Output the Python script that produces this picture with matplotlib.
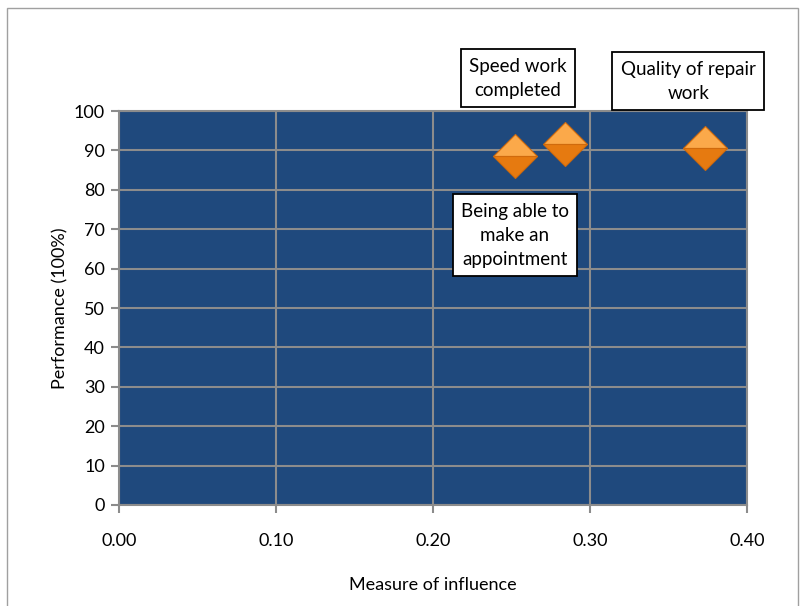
import numpy as np
import matplotlib.pyplot as plt
from matplotlib.patches import Rectangle

plt.rcParams['font.family'] = ['Lato', 'DejaVu Sans']

# data
influence = [0.252, 0.284, 0.373]
performance = [88.6, 91.6, 90.6]
labels = ['Being able to\nmake an\nappointment', 'Speed work\ncompleted', 'Quality of repair\nwork']
xticks = [0.0, 0.1, 0.2, 0.3, 0.4]
yticks = list(range(0, 101, 10))

fig = plt.figure(figsize=(8.04, 6.06), dpi=100)
fig.patches.append(Rectangle((0.009, -0.01), 0.983, 0.997, transform=fig.transFigure,
                             fill=False, edgecolor='#a0a0a0', linewidth=1))
ax = fig.add_axes([0.148, 0.1667, 0.781, 0.650])
ax.set_facecolor('#1f497d')
ax.set_xlim(0, 0.4)
ax.set_ylim(0, 100)
ax.set_xticks(xticks)
ax.set_yticks(yticks)
ax.set_xticklabels(['%.2f' % v for v in xticks])
ax.grid(True, color='#8c8c8c', linewidth=1.5)
ax.set_axisbelow(True)
for s in ax.spines.values():
    s.set_color('#8c8c8c')
    s.set_linewidth(1.5)
ax.tick_params(colors='#8c8c8c', labelcolor='black', labelsize=13, length=6, width=1.5, pad=4)
ax.tick_params(axis='x', pad=14)

# diamond markers, lighter top half for a bit of the 3d look
ax.plot(influence, performance, 'D', markersize=22, fillstyle='top',
        markerfacecolor='#fba94a', markerfacecoloralt='#e67a10',
        markeredgecolor='#d06a0c', markeredgewidth=0.8, zorder=3)

ax.set_xlabel('Measure of influence', fontsize=13, labelpad=20)
ax.set_ylabel('Performance (100%)', fontsize=13, labelpad=4)

box = dict(boxstyle='square,pad=0.45', facecolor='white', edgecolor='black', linewidth=1.3)
label_pos = [(0.6405, 0.612), (0.644, 0.871), (0.856, 0.866)]
for t, (lx, ly) in zip(labels, label_pos):
    fig.text(lx, ly, t, ha='center', va='center', fontsize=13.5, bbox=box, linespacing=1.5)

plt.savefig('out.png', dpi=100)
